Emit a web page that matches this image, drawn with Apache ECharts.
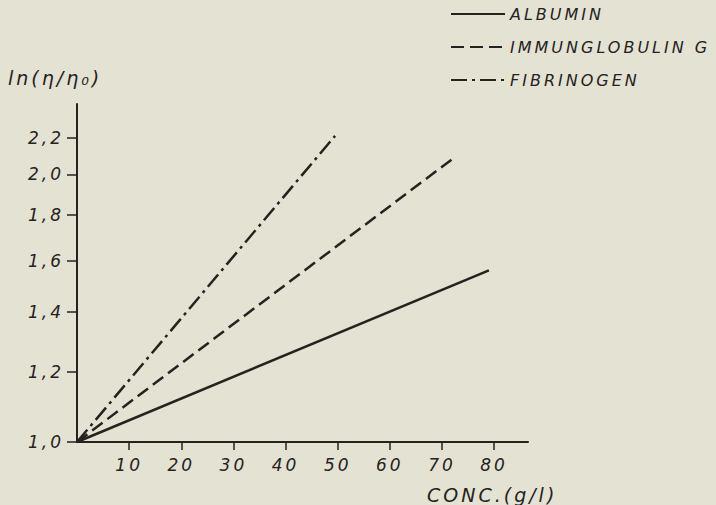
<!DOCTYPE html>
<html><head><meta charset="utf-8">
<script src="https://cdn.jsdelivr.net/npm/echarts@6/dist/echarts.min.js"></script>
<style>
html,body{margin:0;padding:0;background:#e4e2d2;}
#chart{width:716px;height:505px;}
#chart text{letter-spacing:3px;}
</style></head><body><div id="chart"></div>
<script>
const seriesNames = ['ALBUMIN', 'IMMUNGLOBULIN G', 'FIBRINOGEN'];
const albuminConc = [0, 79];
const albuminVisc = [1.0, 1.56];
const iggConc = [0, 72.4];
const iggVisc = [1.0, 2.09];
const fibConc = [0, 49.5];
const fibVisc = [1.0, 2.21];
const xTicks = [10, 20, 30, 40, 50, 60, 70, 80];
const yTicks = [1.0, 1.2, 1.4, 1.6, 1.8, 2.0, 2.2];
const xAxisName = 'CONC.(g/l)';
const yAxisName = 'ln(η/η₀)';

const ink = '#25221f';
const font = { fontFamily: 'DejaVu Sans', fontStyle: 'italic', fontWeight: 'normal', color: ink };
const pair = (xs, ys) => xs.map((x, i) => [x, ys[i]]);

const chart = echarts.init(document.getElementById('chart'), null, { renderer: 'svg' });
chart.setOption({
  backgroundColor: '#e4e2d2',
  animation: false,
  title: [
    { text: yAxisName, left: 3, top: 63, textStyle: Object.assign({}, font, { fontSize: 19 }) },
    { text: xAxisName, left: 422, top: 480, textStyle: Object.assign({}, font, { fontSize: 19 }) }
  ],
  legend: {
    orient: 'vertical', left: 445, top: 1, itemWidth: 54, itemHeight: 14, itemGap: 17,
    data: seriesNames,
    itemStyle: { opacity: 0 },
    textStyle: Object.assign({}, font, { fontSize: 16 })
  },
  grid: { left: 77, right: 188, top: 104, bottom: 63 },
  xAxis: {
    type: 'value', min: 0, max: 86.5,
    splitLine: { show: false },
    axisLine: { lineStyle: { color: ink, width: 2 } },
    axisTick: { show: true, customValues: xTicks, length: 8, lineStyle: { color: ink, width: 1.5 } },
    axisLabel: Object.assign({}, font, { fontSize: 17, margin: 14, customValues: xTicks })
  },
  yAxis: {
    type: 'log', logBase: 10, min: 1, max: 2.4,
    splitLine: { show: false },
    axisLine: { show: true, lineStyle: { color: ink, width: 2 } },
    axisTick: { show: true, customValues: yTicks, length: 10, lineStyle: { color: ink, width: 1.5 } },
    axisLabel: Object.assign({}, font, {
      fontSize: 17, margin: 13, customValues: yTicks,
      formatter: v => Number(v).toFixed(1).replace('.', ',')
    })
  },
  series: [
    { name: seriesNames[0], type: 'line', symbol: 'none', data: pair(albuminConc, albuminVisc),
      lineStyle: { color: ink, width: 2.5, type: 'solid' }, itemStyle: { color: ink } },
    { name: seriesNames[1], type: 'line', symbol: 'none', data: pair(iggConc, iggVisc),
      lineStyle: { color: ink, width: 2.5, type: [13, 6] }, itemStyle: { color: ink } },
    { name: seriesNames[2], type: 'line', symbol: 'none', data: pair(fibConc, fibVisc),
      lineStyle: { color: ink, width: 2.5, type: [16, 5, 3, 5] }, itemStyle: { color: ink } }
  ]
});
</script></body></html>
